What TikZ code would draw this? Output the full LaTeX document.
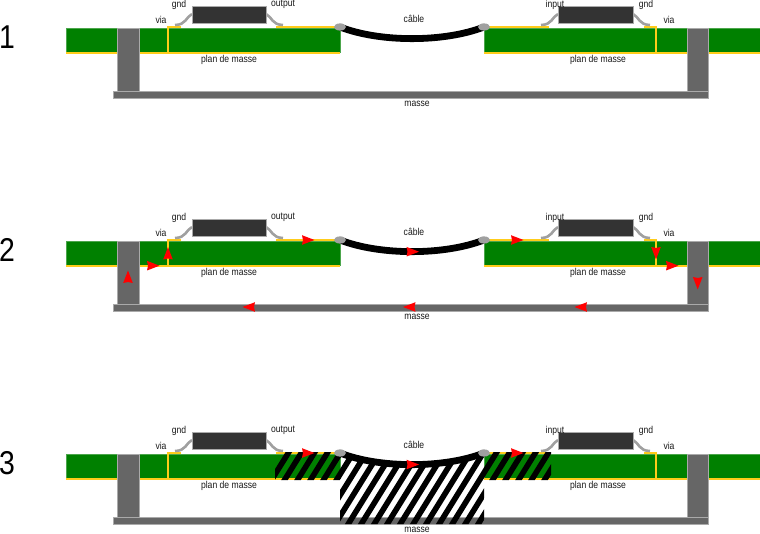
\documentclass[tikz,border=0pt]{standalone}
\usepackage{fontspec}
\setmainfont[FakeStretch=0.86]{Liberation Sans}
\definecolor{boardgreen}{HTML}{008000}
\definecolor{copper}{HTML}{FFCC1A}
\definecolor{metal}{HTML}{666666}
\definecolor{chip}{HTML}{333333}
\definecolor{edge}{HTML}{AAAAAA}
\definecolor{lead}{HTML}{A0A0A0}
\begin{document}
\begin{tikzpicture}[
  x=1pt, y=-1pt,
  board/.style={fill=boardgreen, draw=boardgreen!70!white, line width=0.4pt},
  metalbox/.style={fill=metal, draw=edge, line width=0.6pt},
  chipbox/.style={fill=chip, draw=edge, line width=0.8pt},
  track/.style={draw=copper, line width=2pt},
  pin/.style={draw=lead, line width=2.6pt},
  solder/.style={fill=lead},
  cable/.style={draw=black, line width=6.8pt},
  stripe/.style={draw=black, line width=5.6pt},
  lbl/.style={font=\fontsize{10}{11}\selectfont, inner sep=0pt, text=black!90},
  rownum/.style={font=\fontsize{33}{33}\selectfont, inner sep=0pt, text=black},
  flow/.pic={\fill[red] (-6,-4.8) -- (6.5,0) -- (-6,4.8) -- (-5,0) -- cycle;}
]
  \useasboundingbox (0,0) rectangle (760,534);
  \foreach \row/\dy in {1/0, 2/213, 3/426} {
    \begin{scope}[shift={(0,\dy)}]
      \node[rownum] (num\row) at (7,37) {\row};

      % boards
      \path[board] (66,28) rectangle (340,52);
      \path[board] (484,28) rectangle (760,52);
      \draw[track] (66,53) -- (340,53);
      \draw[track] (484,53) -- (760,53);

      % vias and tracks
      \draw[track] (181,27) -- (168,27) -- (168,53);
      \draw[track] (276,27) -- (340,27);
      \draw[track] (484,27) -- (549,27);
      \draw[track] (644,27) -- (656,27) -- (656,53);

      % ground
      \path[metalbox] (117.5,28) rectangle (139,91);
      \path[metalbox] (687,28) rectangle (708,91);
      \path[metalbox] (113,91) rectangle (708,98);

      % components
      \draw[pin] (192,14) .. controls (186,17) and (186,25) .. (175,25);
      \draw[pin] (266,14) .. controls (272,17) and (272,25) .. (283,25);
      \draw[pin] (558,14) .. controls (552,17) and (552,25) .. (541,25);
      \draw[pin] (633,14) .. controls (639,17) and (639,25) .. (650,25);
      \node[chipbox, minimum width=74pt, minimum height=17pt, inner sep=0pt] (ampli\row) at (229,15) {};
      \node[chipbox, minimum width=75pt, minimum height=17pt, inner sep=0pt] (recep\row) at (595.5,15) {};

      % common mode area
      \ifnum\row=3
        \begin{scope}
          \clip (275,26) rectangle (340,54)
                (484,26) rectangle (551,54)
                (340,27) .. controls (380,42.5) and (444,42.5) .. (484,27) -- (484,98) -- (340,98) -- cycle;
          \foreach \x in {243,256,...,560}
            \draw[stripe] (\x,100) -- (\x+62,0);
        \end{scope}
      \fi

      % cable
      \draw[cable] (340,27) .. controls (380,42.5) and (444,42.5) .. (484,27);
      \path[solder] (340,27) ellipse (6 and 3.6);
      \path[solder] (484,27) ellipse (6 and 3.6);

      % labels
      \node[lbl] (gnda\row) at (179,4.5) {gnd};
      \node[lbl] (output\row) at (283,4.5) {output};
      \node[lbl] (input\row) at (555,4.5) {input};
      \node[lbl] (gndb\row) at (646,4.5) {gnd};
      \node[lbl] (viaa\row) at (161,20) {via};
      \node[lbl] (viab\row) at (669,20) {via};
      \node[lbl] (cablelbl\row) at (414,19) {câble};
      \node[lbl] (plana\row) at (229,60) {plan de masse};
      \node[lbl] (planb\row) at (598,60) {plan de masse};
      \node[lbl] (masse\row) at (417,104) {masse};
    \end{scope}
  }

  % current, row 2
  \path (128,277) pic[rotate=90] {flow};
  \path (153,265.7) pic {flow};
  \path (168,253.5) pic[rotate=90] {flow};
  \path (308,240) pic {flow};
  \path (412.5,251.7) pic {flow};
  \path (517,240) pic {flow};
  \path (656,253) pic[rotate=-90] {flow};
  \path (672,265.7) pic {flow};
  \path (697.7,283) pic[rotate=-90] {flow};
  \path (581,307) pic[rotate=180] {flow};
  \path (409.5,307) pic[rotate=180] {flow};
  \path (249,307) pic[rotate=180] {flow};

  % current, row 3
  \path (308,453) pic {flow};
  \path (412.5,464.5) pic {flow};
  \path (517,453) pic {flow};
\end{tikzpicture}
\end{document}
